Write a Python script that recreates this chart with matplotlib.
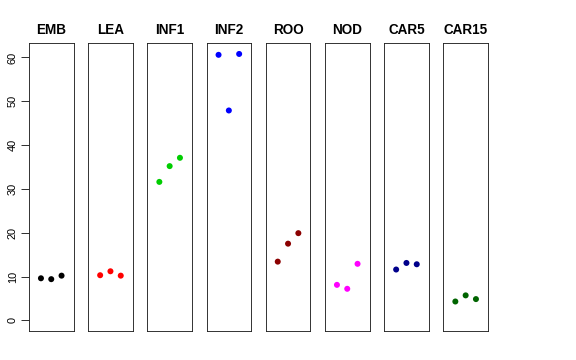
import matplotlib
matplotlib.use("Agg")
import matplotlib.pyplot as plt

# --- data ---
tissues = ["EMB", "LEA", "INF1", "INF2", "ROO", "NOD", "CAR5", "CAR15"]
colours = ["black", "red", "#00CD00", "blue", "#8B0000", "magenta", "#00008B", "#006400"]
reps = [1, 2, 3]
EMB = [9.6, 9.4, 10.2]
LEA = [10.3, 11.2, 10.2]
INF1 = [31.6, 35.2, 37.1]
INF2 = [60.6, 47.9, 60.8]
ROO = [13.4, 17.5, 19.9]
NOD = [8.1, 7.2, 12.9]
CAR5 = [11.6, 13.1, 12.8]
CAR15 = [4.3, 5.7, 4.85]
values = [EMB, LEA, INF1, INF2, ROO, NOD, CAR5, CAR15]
yticks = [0, 10, 20, 30, 40, 50, 60]

plt.rcParams["font.family"] = ["Liberation Sans", "DejaVu Sans"]

W, H = 576, 360
fig = plt.figure(figsize=(W / 72, H / 72), dpi=72)

ymax = max(max(v) for v in values)
ylim = (-0.04 * ymax, 1.04 * ymax)

left0, step, width = 29, 59.2, 44.5
top, bottom = 43.3, 331
for i, (name, col, vals) in enumerate(zip(tissues, colours, values)):
    x0 = left0 + i * step
    ax = fig.add_axes([x0 / W, (H - bottom) / H, width / W, (bottom - top) / H])
    ax.scatter(reps, vals, s=36, c=col, edgecolors="none", zorder=3)
    ax.set_xlim(-0.16, 4.16)
    ax.set_ylim(*ylim)
    ax.set_xticks([])
    ax.set_title(name, fontsize=13.5, fontweight="bold", pad=9)
    for sp in ax.spines.values():
        sp.set_linewidth(0.9)
        sp.set_color("#222222")
    if i == 0:
        ax.set_yticks(yticks)
        ax.tick_params(axis="y", length=8, width=0.8, labelsize=11, pad=3)
        for lab in ax.get_yticklabels():
            lab.set_rotation(90)
            lab.set_va("center")
    else:
        ax.set_yticks([])

fig.savefig("out.png", dpi=72)
